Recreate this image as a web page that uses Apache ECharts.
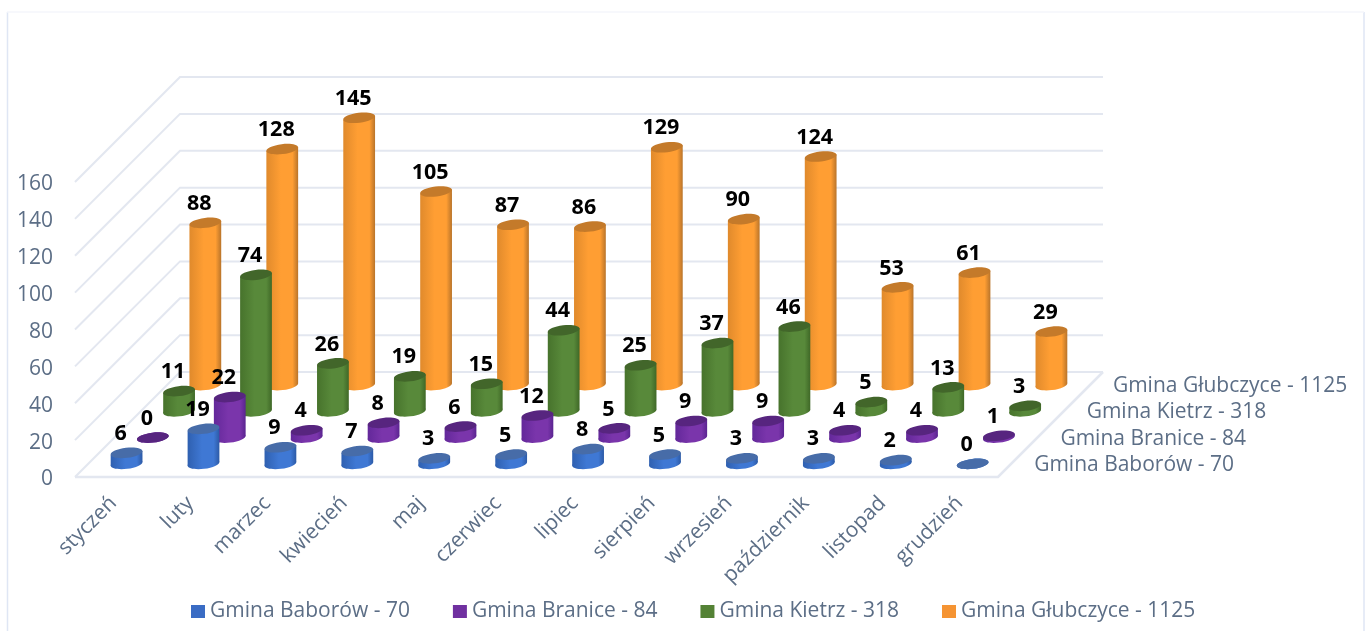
<!DOCTYPE html>
<html>
<head>
<meta charset="utf-8">
<style>
  html, body { margin: 0; padding: 0; background: #fff; }
  #main { width: 1371px; height: 631px; }
</style>
<script src="https://cdn.jsdelivr.net/npm/echarts@6/dist/echarts.min.js"></script>
</head>
<body>
<div id="main"></div>
<script>
const months = ["styczeń", "luty", "marzec", "kwiecień", "maj", "czerwiec", "lipiec", "sierpień", "wrzesień", "październik", "listopad", "grudzień"];
const baborow = [6, 19, 9, 7, 3, 5, 8, 5, 3, 3, 2, 0];
const branice = [0, 22, 4, 8, 6, 12, 5, 9, 9, 4, 4, 1];
const kietrz = [11, 74, 26, 19, 15, 44, 25, 37, 46, 5, 13, 3];
const glubczyce = [88, 128, 145, 105, 87, 86, 129, 90, 124, 53, 61, 29];
const yTicks = [0, 20, 40, 60, 80, 100, 120, 140, 160];
const seriesNames = ["Gmina Baborów - 70", "Gmina Branice - 84", "Gmina Kietrz - 318", "Gmina Głubczyce - 1125"];

const fontName = "Open Sans";
const textColor = "#5c6e86";
const wallColor = "#e3e7f0";
const depthStep = 26.25; // one series row, in px, both right and up
const rx = 16;
const ry = 5;
const tilt = 0.12;

const looks = [
  { legend: "#3a6cc4", cap: "#476ca8", edge: "#2f60b0", mid: "#3f78d4", right: "#2c5aa6" },
  { legend: "#7030a0", cap: "#57257f", edge: "#63289a", mid: "#7a35ab", right: "#5a2490" },
  { legend: "#548235", cap: "#42662a", edge: "#47732c", mid: "#58893a", right: "#3f6827" },
  { legend: "#f59433", cap: "#c47a2a", edge: "#e08a2c", mid: "#ff9e33", right: "#b9742a" },
];

function rowOffset(row) {
  return (row + 0.5) * depthStep;
}

function cylinder(row) {
  const look = looks[row];
  const body = new echarts.graphic.LinearGradient(0, 0, 1, 0, [
    { offset: 0, color: look.edge },
    { offset: 0.45, color: look.mid },
    { offset: 0.82, color: look.mid },
    { offset: 1, color: look.right },
  ]);
  return function (params, api) {
    const value = api.value(1);
    const top = api.coord([api.value(0), value]);
    const base = api.coord([api.value(0), 0]);
    const cx = top[0] + rowOffset(row);
    const capY = top[1] - rowOffset(row);
    const baseY = base[1] - rowOffset(row);
    const dx = rx * Math.cos(tilt);
    const dy = rx * Math.sin(tilt);
    return {
      type: "group",
      children: [
        {
          type: "ellipse",
          shape: { cx: cx, cy: baseY, rx: rx, ry: ry },
          rotation: tilt,
          originX: cx,
          originY: baseY,
          style: { fill: body },
        },
        {
          type: "polygon",
          shape: { points: [[cx - dx, capY + dy], [cx + dx, capY - dy], [cx + dx, baseY - dy], [cx - dx, baseY + dy]] },
          style: { fill: body },
        },
        {
          type: "ellipse",
          shape: { cx: cx, cy: capY, rx: rx, ry: ry },
          rotation: tilt,
          originX: cx,
          originY: capY,
          style: { fill: look.cap },
        },
        {
          type: "text",
          x: cx - 6,
          y: capY - 19,
          style: {
            text: String(value),
            fill: "#000",
            font: "bold 21.5px '" + fontName + "'",
            align: "center",
            verticalAlign: "middle",
          },
        },
      ],
    };
  };
}

// back wall, left wall and floor
function wallLine(params, api) {
  const y = api.coord([0, api.value(1)])[1];
  const left = params.coordSys.x;
  const right = left + params.coordSys.width;
  const depth = depthStep * seriesNames.length;
  const children = [
    {
      type: "polyline",
      shape: { points: [[left, y], [left + depth, y - depth], [right + depth, y - depth]] },
      style: { fill: null, stroke: wallColor, lineWidth: 2 },
    },
  ];
  if (api.value(1) === 0) {
    children.push({
      type: "polyline",
      shape: { points: [[left, y], [right, y], [right + depth, y - depth]] },
      style: { fill: null, stroke: wallColor, lineWidth: 2.5 },
    });
  }
  return { type: "group", children: children };
}

function rowName(params, api) {
  const row = api.value(0);
  const base = api.coord([0, 0])[1];
  const right = params.coordSys.x + params.coordSys.width;
  return {
    type: "text",
    x: right + rowOffset(row) + 23,
    y: base - rowOffset(row) + 1,
    style: {
      text: seriesNames[row],
      fill: textColor,
      font: "21px '" + fontName + "'",
      align: "left",
      verticalAlign: "middle",
    },
  };
}

const rows = [baborow, branice, kietrz, glubczyce];
const barSeries = rows.map(function (values, row) {
  return {
    type: "custom",
    name: seriesNames[row],
    coordinateSystem: "cartesian2d",
    z: 10 + (rows.length - row),
    clip: false,
    silent: true,
    itemStyle: { color: looks[row].legend },
    encode: { x: 0, y: 1 },
    data: values.map(function (v, i) { return [i, v]; }),
    renderItem: cylinder(row),
  };
});

const chart = echarts.init(document.getElementById("main"));
chart.setOption({
  animation: false,
  backgroundColor: "#fff",
  grid: { left: 75, right: 373, top: 182, bottom: 154 },
  graphic: [
    { type: "line", shape: { x1: 7.5, y1: 12, x2: 7.5, y2: 631 }, style: { stroke: "#dfe6f4", lineWidth: 1.5 } },
    { type: "line", shape: { x1: 1364, y1: 12, x2: 1364, y2: 631 }, style: { stroke: "#dfe6f4", lineWidth: 1.5 } },
    { type: "line", shape: { x1: 7, y1: 12, x2: 1364, y2: 12 }, style: { stroke: "#f5f6fb", lineWidth: 1.5 } },
  ],
  legend: {
    left: 186,
    top: 596,
    icon: "rect",
    itemWidth: 14,
    itemHeight: 13,
    itemGap: 43,
    textStyle: { color: textColor, fontFamily: fontName, fontSize: 21 },
    data: seriesNames,
  },
  xAxis: {
    type: "category",
    data: months,
    axisLine: { show: false },
    axisTick: { show: false },
    axisLabel: { interval: 0, rotate: 45, margin: 23, color: textColor, fontFamily: fontName, fontSize: 21 },
  },
  yAxis: {
    type: "value",
    min: 0,
    max: 160,
    interval: 20,
    axisLine: { show: false },
    axisTick: { show: false },
    splitLine: { show: false },
    axisLabel: {
      margin: 22,
      formatter: "{tick|{value}}",
      rich: { tick: { padding: [5, 0, 0, 0], color: textColor, fontFamily: fontName, fontSize: 21 } },
    },
  },
  series: [
    {
      type: "custom",
      coordinateSystem: "cartesian2d",
      z: 1,
      clip: false,
      silent: true,
      encode: { y: 1 },
      data: yTicks.map(function (t) { return [0, t]; }),
      renderItem: wallLine,
    },
    {
      type: "custom",
      coordinateSystem: "cartesian2d",
      z: 2,
      clip: false,
      silent: true,
      encode: { x: 0 },
      data: seriesNames.map(function (n, i) { return [i]; }),
      renderItem: rowName,
    },
  ].concat(barSeries),
});
</script>
</body>
</html>
